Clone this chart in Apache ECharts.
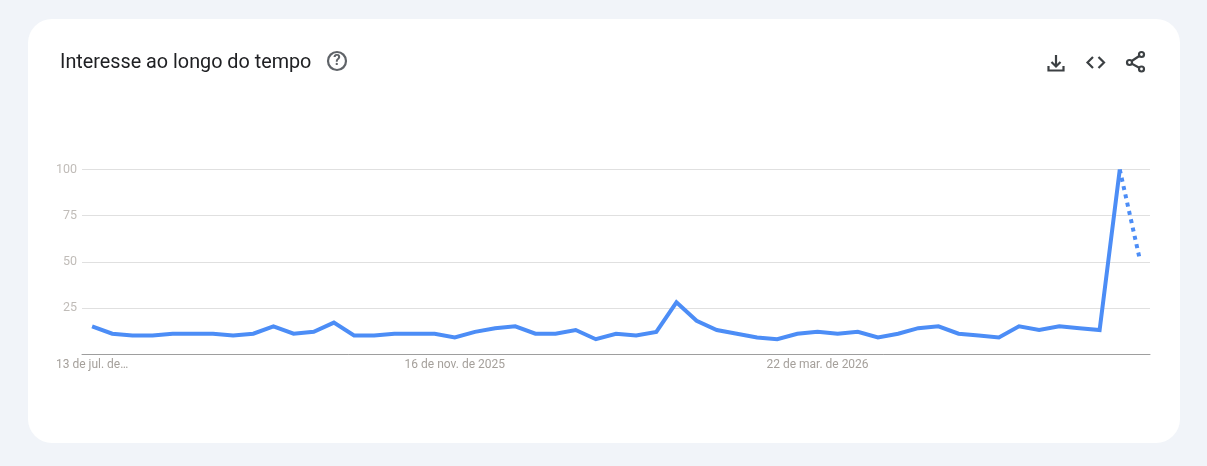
<!DOCTYPE html>
<html>
<head>
<meta charset="utf-8">
<title>Interesse ao longo do tempo</title>
<script src="https://cdn.jsdelivr.net/npm/echarts@6/dist/echarts.min.js"></script>
<style>
    html, body { margin: 0; padding: 0; background: #f1f4f9; }
    #content { width: 1207px; height: 466px; }
</style>
</head>
<body>
<div id="content"></div>
<script>
// semanas (so tres aparecem no eixo)
var weeks = [
    "13 de jul. de 2025", "20 de jul. de 2025", "27 de jul. de 2025", "3 de ago. de 2025", "10 de ago. de 2025",
    "17 de ago. de 2025", "24 de ago. de 2025", "31 de ago. de 2025", "7 de set. de 2025", "14 de set. de 2025",
    "21 de set. de 2025", "28 de set. de 2025", "5 de out. de 2025", "12 de out. de 2025", "19 de out. de 2025",
    "26 de out. de 2025", "2 de nov. de 2025", "9 de nov. de 2025", "16 de nov. de 2025", "23 de nov. de 2025",
    "30 de nov. de 2025", "7 de dez. de 2025", "14 de dez. de 2025", "21 de dez. de 2025", "28 de dez. de 2025",
    "4 de jan. de 2026", "11 de jan. de 2026", "18 de jan. de 2026", "25 de jan. de 2026", "1 de fev. de 2026",
    "8 de fev. de 2026", "15 de fev. de 2026", "22 de fev. de 2026", "1 de mar. de 2026", "8 de mar. de 2026",
    "15 de mar. de 2026", "22 de mar. de 2026", "29 de mar. de 2026", "5 de abr. de 2026", "12 de abr. de 2026",
    "19 de abr. de 2026", "26 de abr. de 2026", "3 de mai. de 2026", "10 de mai. de 2026", "17 de mai. de 2026",
    "24 de mai. de 2026", "31 de mai. de 2026", "7 de jun. de 2026", "14 de jun. de 2026", "21 de jun. de 2026",
    "28 de jun. de 2026", "5 de jul. de 2026", "12 de jul. de 2026"
];
var solidValues = [
    15, 11, 10, 10, 11, 11, 11, 10, 11, 15, 11, 12, 17, 10, 10, 11, 11, 11,
    9, 12, 14, 15, 11, 11, 13, 8, 11, 10, 12, 28, 18, 13, 11, 9, 8, 11,
    12, 11, 12, 9, 11, 14, 15, 11, 10, 9, 15, 13, 15, 14, 13, 100, null
];
// ultimo trecho, dado parcial
var dottedValues = [
    null, null, null, null, null, null, null, null, null, null, null, null, null, null, null, null, null, null,
    null, null, null, null, null, null, null, null, null, null, null, null, null, null, null, null, null, null,
    null, null, null, null, null, null, null, null, null, null, null, null, null, null, null, 100, 51
];
var yTicks = [0, 25, 50, 75, 100];

var cardTitle = "Interesse ao longo do tempo";
var lineColor = "#4c8df6";
var iconColor = "#3c4043";

var myChart = echarts.init(document.getElementById("content"));

// pedacos dos icones do canto direito
function stroke(points) {
    return {
        type: "polyline",
        z: 5,
        shape: { points: points },
        style: { fill: "none", stroke: iconColor, lineWidth: 2.2 }
    };
}
function dot(cx, cy) {
    return {
        type: "circle",
        z: 6,
        shape: { cx: cx, cy: cy, r: 2.5 },
        style: { fill: "#ffffff", stroke: iconColor, lineWidth: 2.2 }
    };
}

myChart.setOption({
    animation: false,
    backgroundColor: "#f1f4f9",
    title: {
        text: cardTitle,
        left: 60,
        top: 53,
        padding: 0,
        textStyle: {
            fontFamily: "Roboto",
            fontWeight: 400,
            fontSize: 19.8,
            color: "#202124"
        }
    },
    graphic: [
        // cartao branco
        {
            type: "rect",
            z: -10,
            shape: { x: 28, y: 19, width: 1152, height: 424, r: 24 },
            style: { fill: "#ffffff" }
        },
        // ajuda
        {
            type: "circle",
            z: 5,
            shape: { cx: 337, cy: 61, r: 9 },
            style: { fill: "none", stroke: "#5f6368", lineWidth: 2.2 }
        },
        {
            type: "text",
            z: 5,
            x: 337,
            y: 61,
            style: {
                text: "?",
                fontFamily: "Roboto",
                fontSize: 15,
                fontWeight: 700,
                fill: "#5f6368",
                align: "center",
                verticalAlign: "middle"
            }
        },
        // baixar
        stroke([[1056, 55], [1056, 66]]),
        stroke([[1051.5, 62], [1056, 66.5], [1060.5, 62]]),
        stroke([[1048.5, 66], [1048.5, 70.5], [1063.5, 70.5], [1063.5, 66]]),
        // incorporar
        stroke([[1093, 57], [1087.5, 62.5], [1093, 68]]),
        stroke([[1098.5, 57], [1104, 62.5], [1098.5, 68]]),
        // compartilhar
        stroke([[1141.5, 54.5], [1129.5, 62.5], [1141.5, 69]]),
        dot(1141.5, 54.5),
        dot(1129.5, 62.5),
        dot(1141.5, 69)
    ],
    grid: { left: 82, right: 57, top: 169.5, bottom: 112 },
    xAxis: {
        type: "category",
        data: weeks,
        boundaryGap: true,
        axisTick: { show: false },
        axisLine: { lineStyle: { color: "#9e9e9e", width: 1 } },
        axisLabel: {
            interval: 17,
            margin: 5,
            fontFamily: "Roboto",
            fontSize: 12,
            color: "#a5a09b",
            formatter: function(value, index) {
                // o primeiro rotulo aparece cortado no original
                return index == 0 ? "13 de jul. de…" : value;
            }
        }
    },
    yAxis: {
        type: "value",
        min: yTicks[0],
        max: yTicks[yTicks.length - 1],
        interval: 25,
        axisLine: { show: false },
        axisTick: { show: false },
        splitLine: { lineStyle: { color: "#e0e0e0", width: 1 } },
        axisLabel: {
            margin: 5,
            fontFamily: "Roboto",
            fontSize: 12.5,
            color: "#c0bcb8",
            formatter: function(value) {
                return value == 0 ? "" : value;
            }
        }
    },
    series: [
        {
            type: "line",
            data: solidValues,
            symbol: "none",
            lineStyle: { color: lineColor, width: 4, join: "miter" }
        },
        {
            type: "line",
            data: dottedValues,
            symbol: "none",
            lineStyle: { color: lineColor, width: 4, type: [4, 4.5] }
        }
    ]
});
</script>
</body>
</html>
